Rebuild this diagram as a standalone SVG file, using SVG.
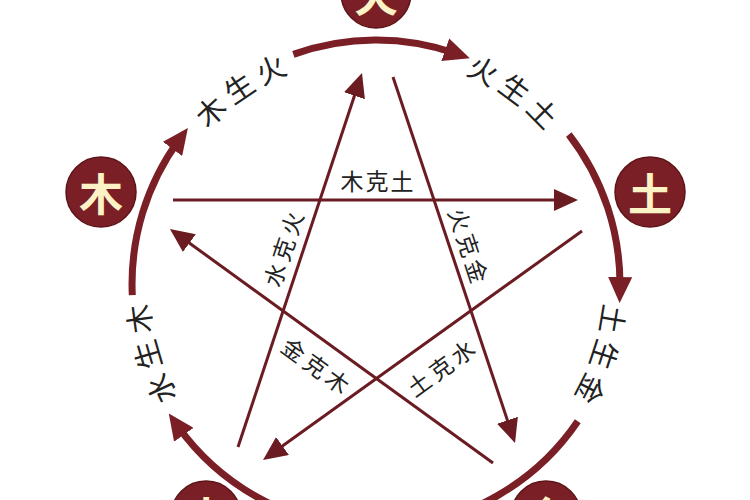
<svg xmlns="http://www.w3.org/2000/svg" width="750" height="500" viewBox="0 0 750 500">
  <style>
    .node circle { fill: #7a1f25; stroke: #5e151a; stroke-width: 1.5; }
    .node text { fill: #fbf3c6; font-family: "Noto Sans CJK SC", "Noto Sans", sans-serif; font-size: 44px; font-weight: bold; text-anchor: middle; dominant-baseline: central; }
    .arc { fill: none; stroke: #7a1f25; stroke-width: 7; }
    .ke { fill: none; stroke: #6a1c22; stroke-width: 3; }
    .ring-label { fill: #222; font-family: "Noto Sans CJK SC", "Noto Sans", sans-serif; font-size: 29px; letter-spacing: 8px; text-anchor: middle; dominant-baseline: central; }
    .ke-label { fill: #222; font-family: "Noto Sans CJK SC", "Noto Sans", sans-serif; font-size: 23px; letter-spacing: 4px; text-anchor: middle; dominant-baseline: central; }
  </style>
  <defs>
    <marker id="arcHead" markerUnits="userSpaceOnUse" markerWidth="26" markerHeight="24" refX="12" refY="12" orient="auto">
      <path d="M0,0 L26,12 L0,24 z" fill="#7a1f25"/>
    </marker>
    <marker id="keHead" markerUnits="userSpaceOnUse" markerWidth="24" markerHeight="22" refX="10" refY="11" orient="auto">
      <path d="M0,0 L24,11 L0,22 z" fill="#6a1c22"/>
    </marker>
    <path id="ring" d="M376,525 A241,241 0 1 1 376,43 A241,241 0 1 1 376,525"/>
  </defs>
  <rect width="750" height="500" fill="#ffffff"/>

  <g id="connectors">
    <!-- generating cycle (outer arcs) -->
    <path class="arc" d="M293.4,54.4 A244,244 0 0 1 456.6,53.7" marker-end="url(#arcHead)"/>
    <path class="arc" d="M568.8,134.5 A244,244 0 0 1 619.9,289.1" marker-end="url(#arcHead)"/>
    <path class="arc" d="M577.8,421.2 A244,244 0 0 1 176.9,425.0" marker-end="url(#arcHead)"/>
    <path class="arc" d="M132.3,295.1 A244,244 0 0 1 179.6,139.2" marker-end="url(#arcHead)"/>
    <!-- controlling cycle (star) -->
    <line class="ke" x1="173" y1="200" x2="564" y2="200" marker-end="url(#keHead)"/>
    <line class="ke" x1="393" y1="77" x2="510.6" y2="429.7" marker-end="url(#keHead)"/>
    <line class="ke" x1="582" y1="231" x2="274.4" y2="451.8" marker-end="url(#keHead)"/>
    <line class="ke" x1="238" y1="447" x2="357.6" y2="86.3" marker-end="url(#keHead)"/>
    <line class="ke" x1="493" y1="463" x2="181.3" y2="237.2" marker-end="url(#keHead)"/>
  </g>

  <g id="ring-labels">
    <text class="ring-label"><textPath href="#ring" startOffset="310">水生木</textPath></text>
    <text class="ring-label"><textPath href="#ring" startOffset="614">木生火</textPath></text>
    <text class="ring-label"><textPath href="#ring" startOffset="910">火生土</textPath></text>
    <text class="ring-label"><textPath href="#ring" startOffset="1212">土生金</textPath></text>
  </g>

  <g id="ke-labels">
    <text class="ke-label" transform="translate(378,180)" style="letter-spacing:2px">木克土</text>
    <text class="ke-label" transform="translate(283,247) rotate(-71.6)">水克火</text>
    <text class="ke-label" transform="translate(470,247) rotate(71.6)">火克金</text>
    <text class="ke-label" transform="translate(318,366) rotate(36)">金克木</text>
    <text class="ke-label" transform="translate(442,366) rotate(-36)">土克水</text>
  </g>

  <g id="node-fire" class="node"><circle cx="376" cy="-7" r="35"/><text x="376" y="-7">火</text></g>
  <g id="node-wood" class="node"><circle cx="101" cy="192" r="35"/><text x="101" y="192">木</text></g>
  <g id="node-earth" class="node"><circle cx="650" cy="192" r="35"/><text x="650" y="192">土</text></g>
  <g id="node-water" class="node"><circle cx="206" cy="516" r="35"/><text x="206" y="516">水</text></g>
  <g id="node-metal" class="node"><circle cx="546" cy="516" r="35"/><text x="546" y="516">金</text></g>
</svg>
